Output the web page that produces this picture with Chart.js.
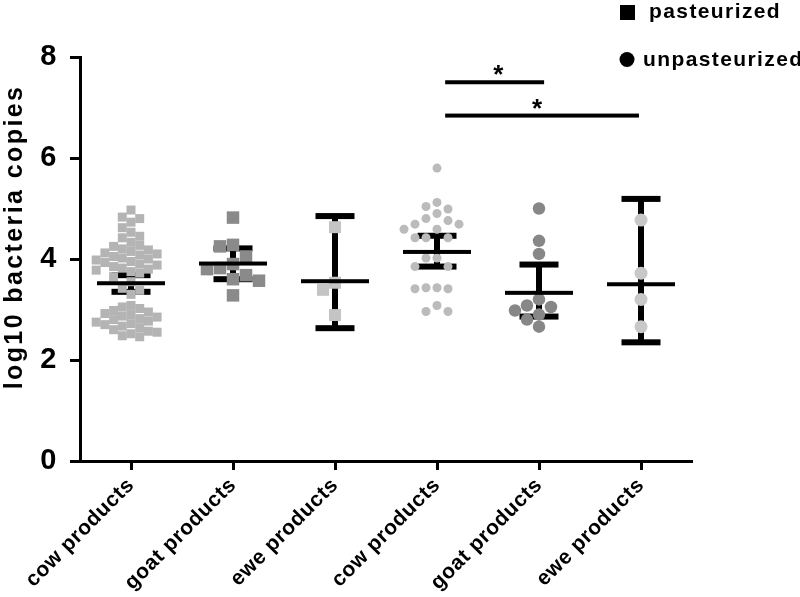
<!DOCTYPE html>
<html>
<head>
<meta charset="utf-8">
<script src="https://cdn.jsdelivr.net/npm/chart.js@4"></script>
<style>
  html, body { margin: 0; padding: 0; background: #fff; }
  #wrap { width: 800px; height: 597px; position: relative; }
</style>
</head>
<body>
<div id="wrap"><canvas id="dotplot"></canvas></div>
<script>
// ---- data ----
const categories = ['cow products', 'goat products', 'ewe products', 'cow products', 'goat products', 'ewe products'];
const yTicks = [0, 2, 4, 6, 8];
const legendLabels = ['pasteurized', 'unpasteurized'];
const yTitle = 'log10 bacteria copies';

const cowPasteurized = [4.97, 4.83, 4.8, 4.73, 4.62, 4.53, 4.45, 4.42, 4.33,
  4.27, 4.25, 4.2, 4.18, 4.15, 4.12, 4.1, 4.08, 4.05, 4.02, 4.0, 3.98, 3.95, 3.93, 3.9, 3.88, 3.85, 3.82, 3.8, 3.78, 3.75, 3.72,
  3.65, 3.55, 3.42, 3.38, 3.3,
  3.08, 3.05, 3.02, 2.98, 2.95, 2.92, 2.9, 2.87, 2.85, 2.82, 2.8, 2.77, 2.75, 2.72, 2.7, 2.67, 2.64, 2.6, 2.57, 2.55, 2.52, 2.48, 2.46];
const goatPasteurized = [4.82, 4.28, 4.25, 4.05, 3.9, 3.82, 3.8, 3.68, 3.6, 3.57, 3.28];
const ewePasteurized = [4.63, 3.53, 3.39, 2.89];
const cowUnpasteurized = [5.8, 5.12, 5.04, 4.99, 4.9, 4.8, 4.76, 4.69, 4.69, 4.59, 4.59, 4.42, 4.42, 4.42,
  4.02, 4.02, 3.85, 3.85, 3.43, 3.43, 3.41, 3.41, 3.08, 2.96, 2.96];
const goatUnpasteurized = [5.0, 4.36, 4.1, 3.2, 3.08, 3.05, 2.98, 2.9, 2.8, 2.66];
const eweUnpasteurized = [4.77, 3.72, 3.2, 2.66];

// mean and error bar ends
const means = [3.52, 3.91, 3.56, 4.14, 3.33, 3.5];
const errHigh = [3.68, 4.21, 4.85, 4.46, 3.89, 5.19];
const errLow = [3.35, 3.6, 2.63, 3.85, 2.86, 2.35];

// significance bars
const sigFrom = [3.08, 3.08];
const sigTo = [4.05, 4.98];
const sigY = [7.5, 6.84];
const sigStarX = [3.6, 3.98];

// ---- styling ----
const groups = [cowPasteurized, goatPasteurized, ewePasteurized, cowUnpasteurized, goatUnpasteurized, eweUnpasteurized];
const markerSize = [9, 12.5, 12, 9, 12.5, 13];
const swarmGap = [8.7, 13, 12, 11, 12, 14];
const markerColor = ['#b4b4b4', '#8a8a8a', '#c4c4c4', '#bbbbbb', '#878787', '#c8c8c8'];
const FONT = '"Liberation Sans", Arial, sans-serif';

// simple beeswarm so overlapping dots spread sideways
function swarm(values, center, d, square) {
  const pxX = 102, pxY = 50.5;
  const placed = [];
  const dist = (a, b) => square ? Math.max(Math.abs(a.x - b.x), Math.abs(a.y - b.y))
                                : Math.hypot(a.x - b.x, a.y - b.y);
  return values.slice().sort((a, b) => b - a).map(v => {
    const py = v * pxY;
    let off = 0;
    for (let i = 0; i < 60; i++) {
      off = (i % 2 ? -1 : 1) * Math.ceil(i / 2) * d / 2;
      const hit = placed.some(p => dist(p, { x: off, y: py }) < d);
      if (!hit) break;
    }
    placed.push({ x: off, y: py });
    return { x: center + off / pxX, y: v };
  });
}

const datasets = groups.map((vals, i) => {
  const isRect = i < 3;
  return {
    label: categories[i],
    data: swarm(vals, i, swarmGap[i], isRect),
    pointStyle: isRect ? 'rect' : 'circle',
    pointRadius: isRect ? markerSize[i] / Math.SQRT2 : markerSize[i] / 2,
    backgroundColor: markerColor[i],
    borderWidth: 0,
    pointBorderWidth: 0
  };
});

const overlay = {
  id: 'overlay',
  beforeDraw(chart) {
    chart.ctx.letterSpacing = '0.6px';
  },
  beforeDatasetsDraw(chart) {
    const { ctx, scales: { x, y } } = chart;
    ctx.save();
    ctx.fillStyle = '#000';
    means.forEach((m, i) => {
      const cx = x.getPixelForValue(i);
      const top = y.getPixelForValue(errHigh[i]);
      const bot = y.getPixelForValue(errLow[i]);
      ctx.fillRect(cx - 3, top, 6, bot - top);
      ctx.fillRect(cx - 19.5, top - 3, 39, 6);
      ctx.fillRect(cx - 19.5, bot - 3, 39, 6);
    });
    ctx.restore();
  },
  afterDatasetsDraw(chart) {
    const { ctx, scales: { x, y } } = chart;
    ctx.save();
    ctx.fillStyle = '#000';
    means.forEach((m, i) => {
      const cx = x.getPixelForValue(i);
      const my = y.getPixelForValue(m);
      ctx.fillRect(cx - 34, my - 2, 68, 4);
    });
    ctx.restore();
  },
  afterDraw(chart) {
    const { ctx, scales: { x, y } } = chart;
    ctx.save();
    ctx.fillStyle = '#000';
    // significance lines
    sigY.forEach((v, i) => {
      const py = y.getPixelForValue(v);
      const x1 = x.getPixelForValue(sigFrom[i]);
      const x2 = x.getPixelForValue(sigTo[i]);
      ctx.fillRect(x1, py - 2, x2 - x1, 4);
      ctx.font = 'bold 26px ' + FONT;
      ctx.letterSpacing = '0px';
      ctx.textAlign = 'center';
      ctx.textBaseline = 'alphabetic';
      ctx.fillText('*', x.getPixelForValue(sigStarX[i]), py + 1);
    });
    // legend
    ctx.letterSpacing = '1.4px';
    ctx.font = 'bold 21px ' + FONT;
    ctx.textAlign = 'left';
    ctx.fillRect(620, 5, 15, 15);
    ctx.fillText(legendLabels[0], 649, 18);
    ctx.beginPath();
    ctx.arc(627, 59.5, 7.5, 0, Math.PI * 2);
    ctx.fill();
    ctx.fillText(legendLabels[1], 643, 66);
    // y axis title
    ctx.translate(15, 237);
    ctx.rotate(-Math.PI / 2);
    ctx.font = 'bold 25px ' + FONT;
    ctx.letterSpacing = '2.4px';
    ctx.textAlign = 'center';
    ctx.textBaseline = 'middle';
    ctx.fillText(yTitle, 0, 0);
    ctx.restore();
  }
};

new Chart(document.getElementById('dotplot'), {
  type: 'scatter',
  data: { datasets },
  options: {
    responsive: true,
    maintainAspectRatio: false,
    animation: false,
    events: [],
    layout: { padding: { top: 57, right: 108, left: 0, bottom: 0 } },
    plugins: {
      legend: { display: false },
      tooltip: { enabled: false }
    },
    scales: {
      x: {
        type: 'linear',
        min: -0.5,
        max: 5.5,
        afterBuildTicks: axis => { axis.ticks = categories.map((c, i) => ({ value: i })); },
        afterFit: s => { s.height = 136; },
        ticks: {
          callback: v => categories[v],
          autoSkip: false,
          maxRotation: 45,
          minRotation: 45,
          padding: 3,
          color: '#000',
          font: { family: FONT, size: 21, weight: 'bold' }
        },
        grid: { drawOnChartArea: false, tickLength: 9, tickWidth: 3, tickColor: '#000' },
        border: { color: '#000', width: 3 }
      },
      y: {
        min: 0,
        max: 8,
        afterBuildTicks: axis => { axis.ticks = yTicks.map(v => ({ value: v })); },
        afterFit: s => { s.width = 80; },
        ticks: {
          padding: 13,
          color: '#000',
          font: { family: FONT, size: 29, weight: 'bold' }
        },
        grid: { drawOnChartArea: false, tickLength: 10, tickWidth: 3, tickColor: '#000' },
        border: { color: '#000', width: 3 }
      }
    }
  },
  plugins: [overlay]
});
</script>
</body>
</html>
